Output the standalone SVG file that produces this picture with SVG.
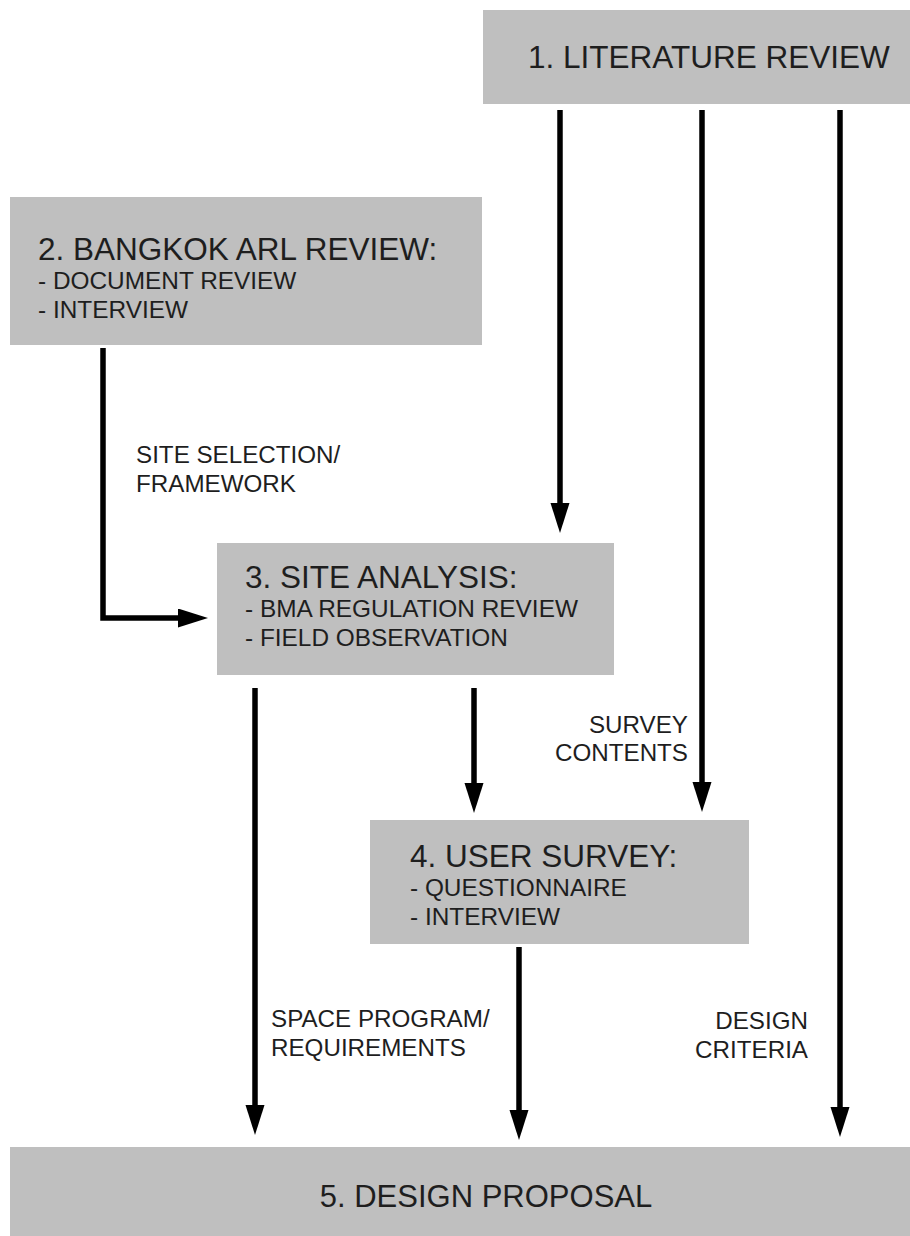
<svg xmlns="http://www.w3.org/2000/svg" width="910" height="1236" viewBox="0 0 910 1236">
<style>
.box{fill:#bfbfbf;}
.t{font-family:"Liberation Sans",Arial,sans-serif;fill:#1e1e1e;}
.title{font-size:31.5px;}
.sub{font-size:24.4px;}
.lbl{font-size:24.2px;}
.con{fill:none;stroke:#000;stroke-width:5.5;}
</style>
<defs>
<marker id="ah" markerUnits="userSpaceOnUse" markerWidth="32" markerHeight="20" refX="2" refY="9.5" orient="auto">
<path d="M0,0 L30,9.5 L0,19 Z" fill="#000"/>
</marker>
</defs>
<rect width="910" height="1236" fill="#fff"/>
<g id="n1">
<rect class="box" x="483" y="10" width="427" height="94"/>
<text class="t title" x="528" y="68">1. LITERATURE REVIEW</text>
</g>
<g id="n2">
<rect class="box" x="10" y="197" width="472" height="148"/>
<text class="t title" x="38" y="260">2. BANGKOK ARL REVIEW:</text>
<text class="t sub" x="38" y="289">- DOCUMENT REVIEW</text>
<text class="t sub" x="38" y="318">- INTERVIEW</text>
</g>
<g id="n3">
<rect class="box" x="217" y="543" width="397" height="132"/>
<text class="t title" x="245" y="588">3. SITE ANALYSIS:</text>
<text class="t sub" x="245" y="617">- BMA REGULATION REVIEW</text>
<text class="t sub" x="245" y="646">- FIELD OBSERVATION</text>
</g>
<g id="n4">
<rect class="box" x="370" y="820" width="379" height="124"/>
<text class="t title" x="410" y="867">4. USER SURVEY:</text>
<text class="t sub" x="410" y="896">- QUESTIONNAIRE</text>
<text class="t sub" x="410" y="925">- INTERVIEW</text>
</g>
<g id="n5">
<rect class="box" x="10" y="1147" width="900" height="89"/>
<text class="t title" x="486" y="1207" text-anchor="middle" style="font-size:31px">5. DESIGN PROPOSAL</text>
</g>
<g id="connectors">
<path class="con" d="M560,110 V505" marker-end="url(#ah)"/>
<path class="con" d="M702,110 V784" marker-end="url(#ah)"/>
<path class="con" d="M840,110 V1109" marker-end="url(#ah)"/>
<path class="con" d="M103,348 V618 H180" marker-end="url(#ah)"/>
<path class="con" d="M255,688 V1107" marker-end="url(#ah)"/>
<path class="con" d="M474,688 V785" marker-end="url(#ah)"/>
<path class="con" d="M519,947 V1112" marker-end="url(#ah)"/>
</g>
<g id="labels">
<text class="t lbl" x="136" y="463">SITE SELECTION/</text>
<text class="t lbl" x="136" y="492">FRAMEWORK</text>
<text class="t lbl" x="688" y="733" text-anchor="end">SURVEY</text>
<text class="t lbl" x="688" y="761" text-anchor="end">CONTENTS</text>
<text class="t lbl" x="271" y="1027">SPACE PROGRAM/</text>
<text class="t lbl" x="271" y="1056">REQUIREMENTS</text>
<text class="t lbl" x="808" y="1029" text-anchor="end">DESIGN</text>
<text class="t lbl" x="808" y="1058" text-anchor="end">CRITERIA</text>
</g>
</svg>
